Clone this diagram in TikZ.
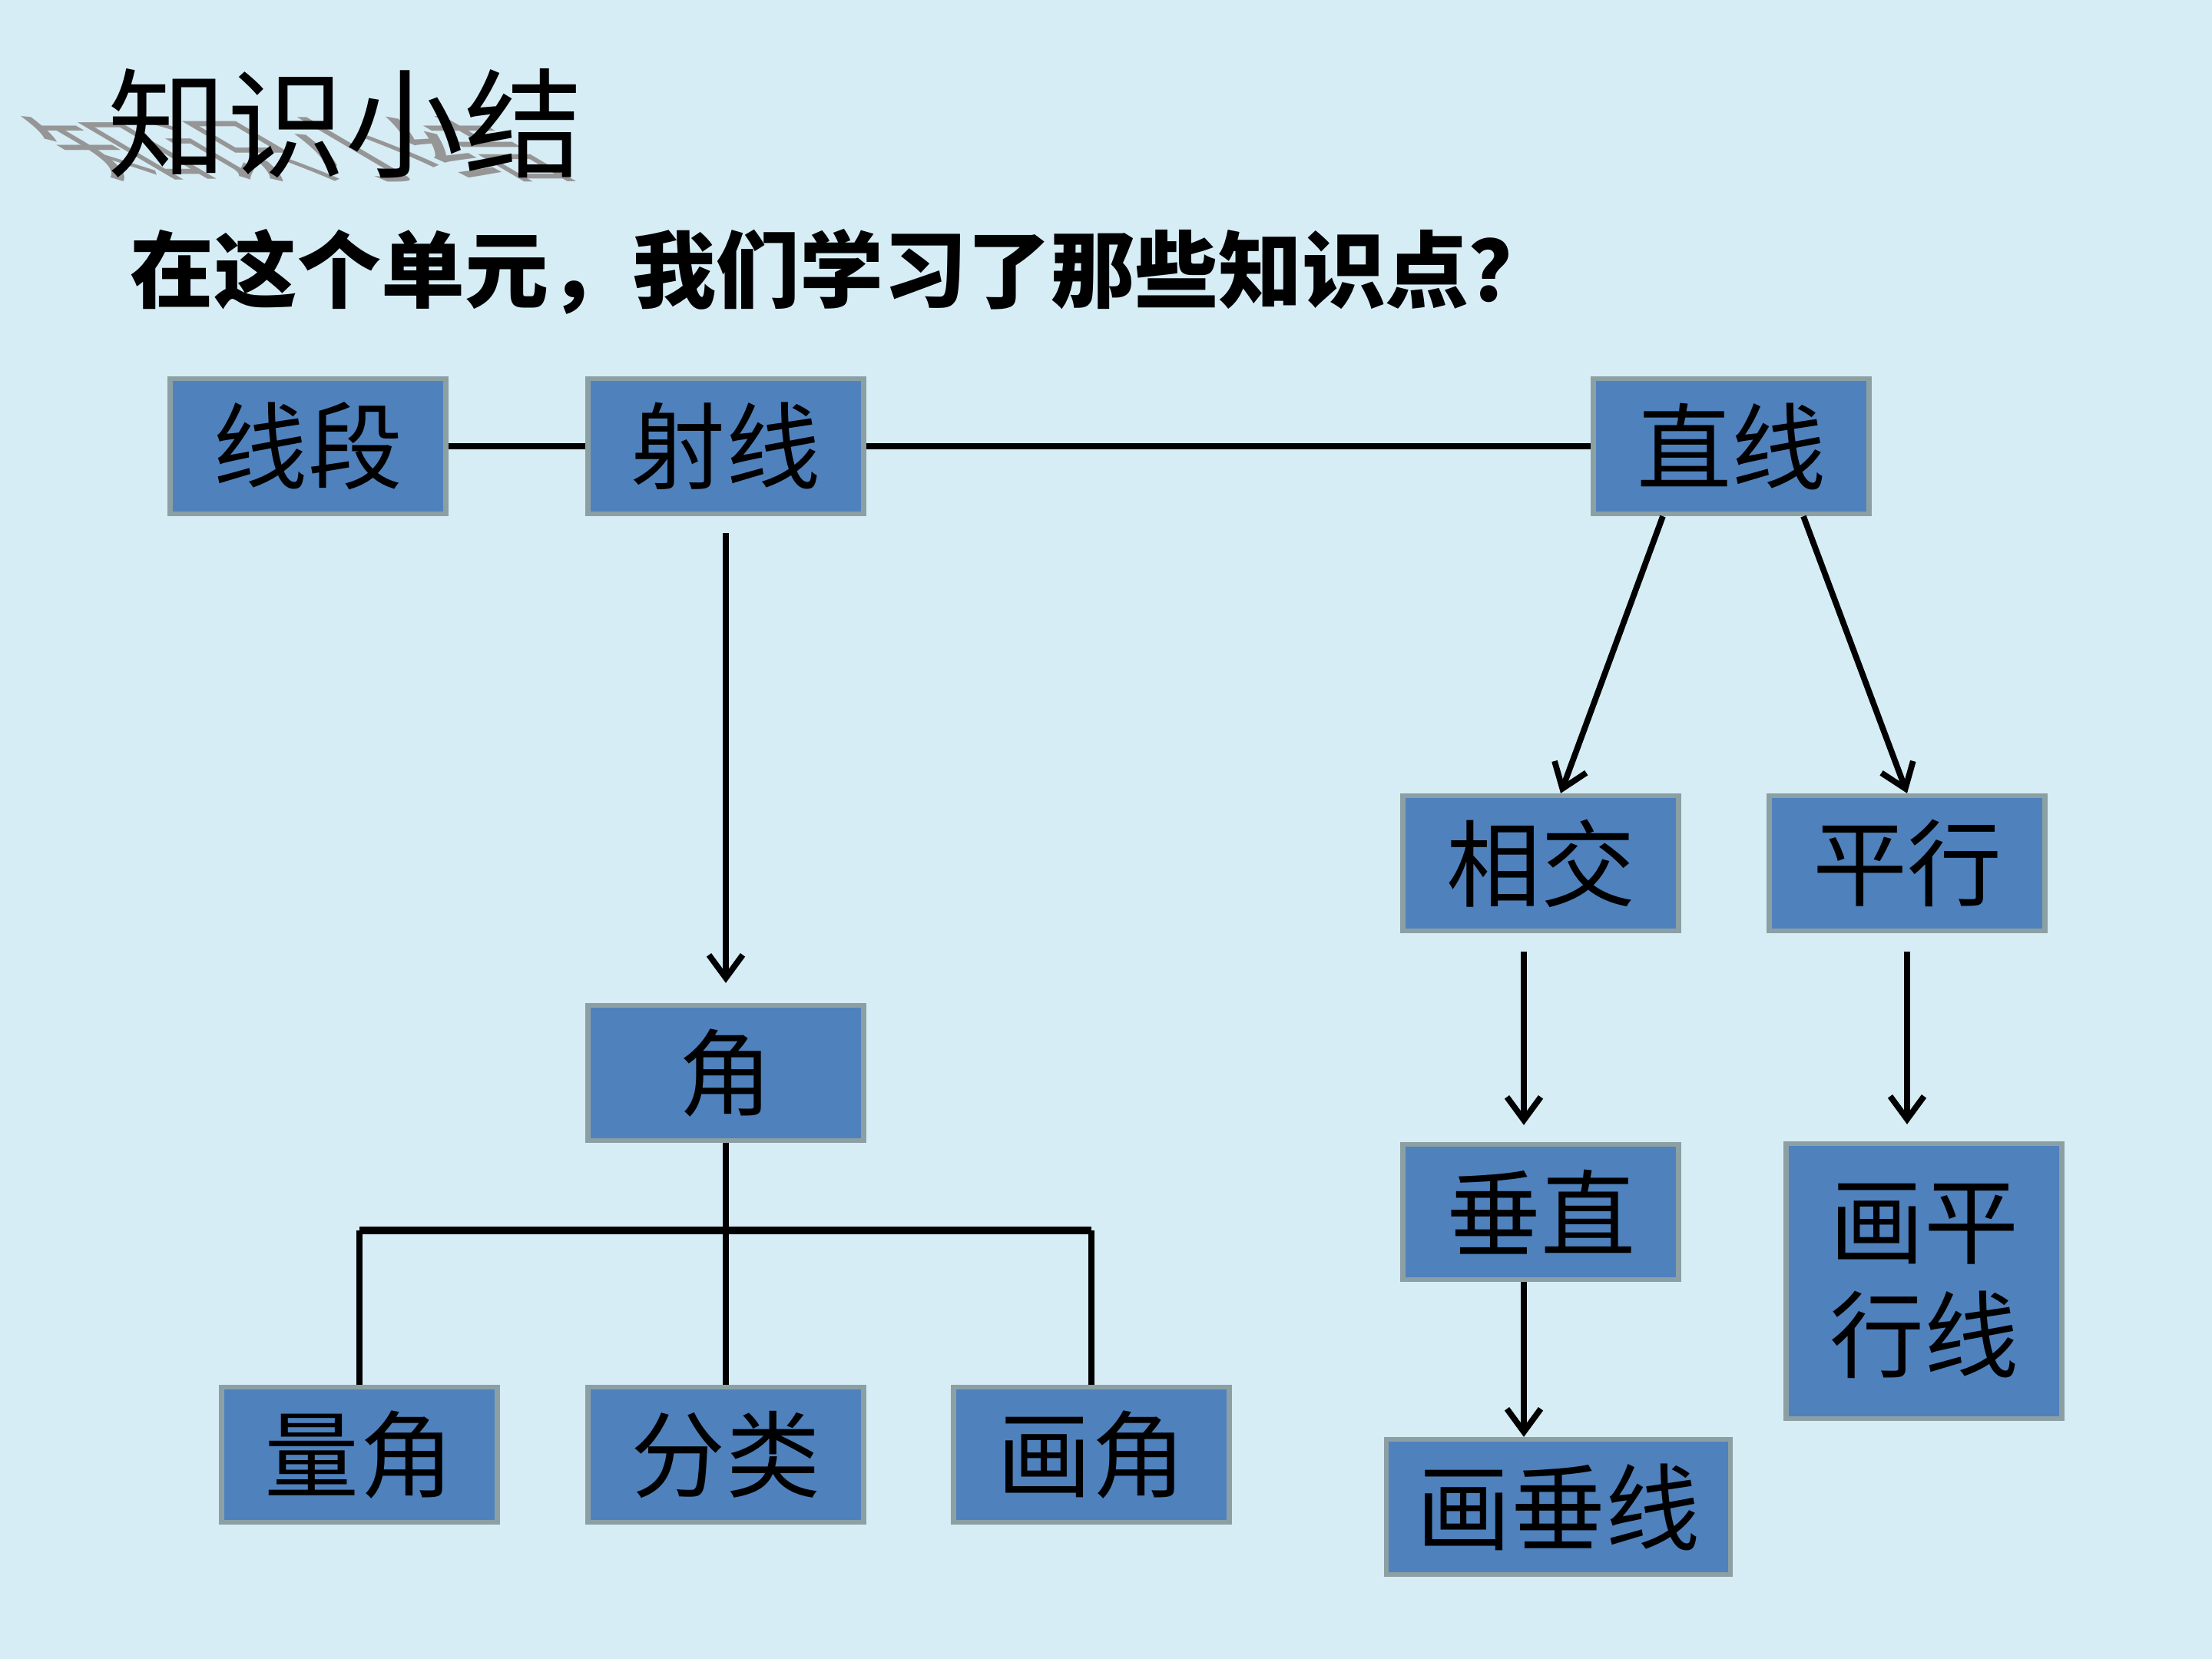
\documentclass[tikz,border=0pt]{standalone}
\usepackage{fontspec}
\setmainfont{Noto Sans CJK SC}
\usetikzlibrary{arrows.meta,calc}
\definecolor{bg}{RGB}{214,237,246}
\definecolor{boxfill}{RGB}{79,129,189}
\definecolor{boxedge}{RGB}{140,160,164}
\definecolor{shadowgray}{RGB}{150,150,150}
\tikzset{
  kbox/.style={draw=boxedge, line width=1.8pt, fill=boxfill, minimum width=3.59cm,
    minimum height=1.76cm, inner sep=0pt, font=\fontsize{35}{42}\selectfont,
    text=black, align=center},
  link/.style={line width=2.2pt, draw=black},
  arr/.style={link, -{Straight Barb[length=0.3cm, width=0.44cm, line width=2.2pt]}},
}
\begin{document}
\begin{tikzpicture}
\fill[bg] (0,0) rectangle (28.8,-21.6);
\useasboundingbox (0,0) rectangle (28.8,-21.6);

% title with shadow
\begin{scope}[shift={(4.45,-2.3)}, xslant=-1.7, yscale=0.6]
  \node[transform shape, anchor=base, inner sep=0pt, text=shadowgray,
        font=\fontsize{44}{50}\selectfont] (tshadow) at (0,0) {知识小结};
\end{scope}
\node[anchor=base, inner sep=0pt, font=\fontsize{44}{50}\selectfont] (title) at (4.5,-2.2) {知识小结};
\node[anchor=west, inner sep=0pt, font=\fontsize{31}{36}\selectfont\bfseries] (q) at (1.69,-3.54)
  {在这个单元，我们学习了那些知识点？};

% boxes
\node[kbox] (xd) at (4.01,-5.81) {线段};
\node[kbox] (sx) at (9.45,-5.81) {射线};
\node[kbox] (zx) at (22.54,-5.81) {直线};
\node[kbox] (xj) at (20.06,-11.24) {相交};
\node[kbox] (px) at (24.83,-11.24) {平行};
\node[kbox] (jiao) at (9.45,-13.97) {角};
\node[kbox] (cz) at (20.06,-15.78) {垂直};
\node[kbox, minimum height=3.58cm] (hpx) at (25.05,-16.68) {画平\\行线};
\node[kbox] (lj) at (4.68,-18.94) {量角};
\node[kbox] (fl) at (9.45,-18.94) {分类};
\node[kbox] (hj) at (14.21,-18.94) {画角};
\node[kbox, minimum width=4.48cm] (hcx) at (20.29,-19.62) {画垂线};

% helper coordinates
\coordinate (xjs) at ($(xj.south)+(-0.22,0)$);
\coordinate (czn) at ($(cz.north)+(-0.22,0)$);
\coordinate (czs) at ($(cz.south)+(-0.22,0)$);
\coordinate (hcxn) at (czs |- hcx.north);
\coordinate (zxl) at ($(zx.south)+(-0.89,0)$);
\coordinate (zxr) at ($(zx.south)+(0.94,0)$);
\coordinate (xjn) at ($(xj.north)+(0.26,0)$);
\coordinate (hpxn) at (px.south |- hpx.north);
\coordinate (bar) at (9.45,-16.02);
\coordinate (barl) at (lj.north |- bar);
\coordinate (barr) at (hj.north |- bar);

% connectors
\draw[link] (xd.east) -- (sx.west);
\draw[link] (sx.east) -- (zx.west);
\draw[arr, shorten <=0.22cm, shorten >=0.26cm] (sx.south) -- (jiao.north);
\draw[arr] (zxl) -- (xjn);
\draw[arr] (zxr) -- (px.north);
\draw[arr, shorten <=0.24cm, shorten >=0.22cm] (xjs) -- (czn);
\draw[arr, shorten <=0.24cm, shorten >=0.22cm] (px.south) -- (hpxn);
\draw[arr] (czs) -- (hcxn);

\draw[link] (jiao.south) -- (fl.north);
\draw[line width=3pt] (barl) -- (barr);
\draw[link] (barl) -- (lj.north);
\draw[link] (barr) -- (hj.north);
\end{tikzpicture}
\end{document}
